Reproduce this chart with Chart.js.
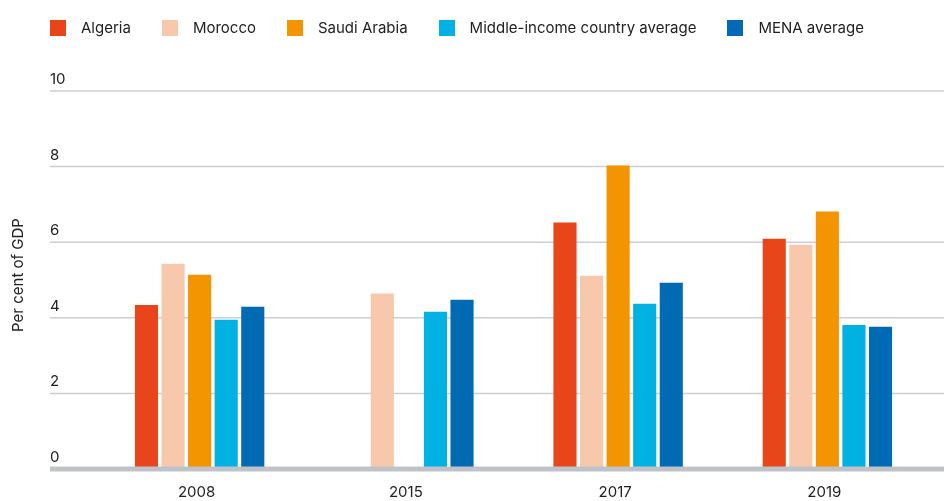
<!DOCTYPE html>
<html>
<head>
<meta charset="utf-8">
<script src="https://cdn.jsdelivr.net/npm/chart.js@4"></script>
<style>
    body { margin: 0; background: #fff; font-family: Inter, "Noto Sans", sans-serif; }
    #wrap { position: relative; width: 944px; height: 501px; }
    #legend { position: absolute; left: 50px; top: 20px; display: flex; font-size: 15px; color: #222; line-height: 16px; }
    #legend .item { display: flex; align-items: center; margin-right: 31px; }
    #legend .box { width: 16px; height: 16px; margin-right: 15px; }
</style>
</head>
<body>
<div id="wrap">
    <canvas id="myChart" width="944" height="501"></canvas>
    <div id="legend"></div>
</div>
<script>
const years = ['2008', '2015', '2017', '2019'];
const series = ['Algeria', 'Morocco', 'Saudi Arabia', 'Middle-income country average', 'MENA average'];

const algeria = [4.34, null, 6.52, 6.09];
const morocco = [5.43, 4.64, 5.11, 5.93];
const saudi = [5.14, null, 8.03, 6.81];
const middleIncome = [3.95, 4.16, 4.37, 3.81];
const mena = [4.29, 4.48, 4.93, 3.76];

const yTicks = [0, 2, 4, 6, 8, 10];

const colors = ['#e8461a', '#f7c8ab', '#f39500', '#00b1e1', '#006bb3'];
const values = [algeria, morocco, saudi, middleIncome, mena];

// legend is plain html above the canvas
const legendEl = document.getElementById('legend');
series.forEach((name, i) => {
    const item = document.createElement('div');
    item.className = 'item';
    item.innerHTML = '<span class="box" style="background:' + colors[i] + '"></span><span>' + name + '</span>';
    legendEl.appendChild(item);
});

// grid lines, y labels, axis title and the thick zero line
const frame = {
    id: 'frame',
    beforeDatasetsDraw(chart) {
        const ctx = chart.ctx;
        const y = chart.scales.y;
        ctx.save();
        ctx.strokeStyle = '#cbced5';
        ctx.lineWidth = 1.5;
        ctx.fillStyle = '#222';
        ctx.font = '15px Inter, "Noto Sans", sans-serif';
        ctx.textAlign = 'left';
        ctx.textBaseline = 'alphabetic';
        yTicks.forEach(t => {
            const py = y.getPixelForValue(t);
            if (t !== 0) {
                ctx.beginPath();
                ctx.moveTo(50, py);
                ctx.lineTo(944, py);
                ctx.stroke();
            }
            ctx.fillText(String(t), 50, py - 7);
        });
        ctx.translate(18, (chart.chartArea.top + chart.chartArea.bottom) / 2 - 5);
        ctx.rotate(-Math.PI / 2);
        ctx.textAlign = 'center';
        ctx.textBaseline = 'middle';
        ctx.fillText('Per cent of GDP', 0, 0);
        ctx.restore();
    },
    afterDatasetsDraw(chart) {
        const ctx = chart.ctx;
        const py = chart.scales.y.getPixelForValue(0);
        ctx.save();
        ctx.fillStyle = '#bfc3c9';
        ctx.fillRect(50, py - 2.5, 894, 5);
        ctx.restore();
    }
};

const data = {
    labels: years,
    datasets: series.map((name, i) => ({
        label: name,
        data: values[i],
        backgroundColor: colors[i],
        borderWidth: 0,
        barPercentage: 0.87,
        categoryPercentage: 0.635
    }))
};

const config = {
    type: 'bar',
    data: data,
    options: {
        responsive: false,
        animation: false,
        layout: { padding: { left: 95, right: 12, top: 91, bottom: 0 } },
        plugins: {
            legend: { display: false },
            tooltip: { enabled: false }
        },
        scales: {
            x: {
                grid: { display: false, drawTicks: false },
                border: { display: false },
                afterFit(scale) { scale.height = 32; },
                ticks: {
                    color: '#222',
                    padding: 16,
                    labelOffset: -3,
                    font: { family: 'Inter, "Noto Sans", sans-serif', size: 15, lineHeight: 1 }
                }
            },
            y: {
                display: false,
                min: 0,
                max: 10
            }
        }
    },
    plugins: [frame]
};

const myChart = new Chart(document.getElementById('myChart'), config);
</script>
</body>
</html>
